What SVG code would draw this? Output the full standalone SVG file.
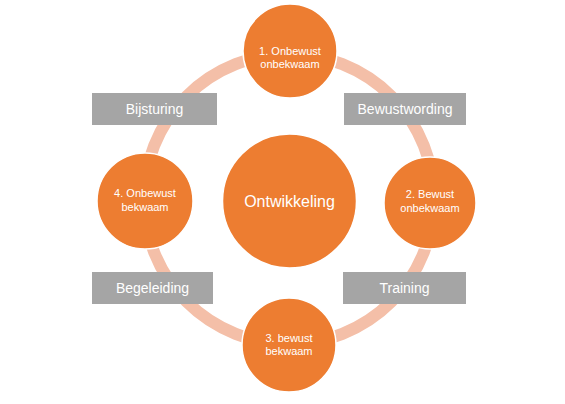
<svg xmlns="http://www.w3.org/2000/svg" width="565" height="404" viewBox="0 0 565 404">
<style>
.node{fill:#ED7D31;stroke:#fff;stroke-width:1.5}
.box{fill:#A5A5A5}
.t{font-family:"Liberation Sans",Arial,sans-serif;fill:#fff;text-anchor:middle}
.s{font-size:11px}
.b{font-size:14px}
</style>
<rect width="565" height="404" fill="#fff"/>
<g id="connectors">
<circle cx="289" cy="199" r="145" fill="none" stroke="#F4BFA8" stroke-width="12"/>
</g>
<g id="box-bijsturing"><rect class="box" x="92" y="93" width="125" height="32"/><text class="t b" x="154.5" y="114">Bijsturing</text></g>
<g id="box-bewustwording"><rect class="box" x="344" y="93" width="122" height="32"/><text class="t b" x="405" y="114">Bewustwording</text></g>
<g id="box-begeleiding"><rect class="box" x="92" y="272" width="121" height="32"/><text class="t b" x="152.5" y="293">Begeleiding</text></g>
<g id="box-training"><rect class="box" x="343" y="272" width="123" height="32"/><text class="t b" x="404.5" y="293">Training</text></g>
<g id="node-1"><circle class="node" cx="290" cy="51" r="47"/><text class="t s" x="290" y="55">1. Onbewust</text><text class="t s" x="290" y="68">onbekwaam</text></g>
<g id="node-2"><circle class="node" cx="430" cy="203" r="46"/><text class="t s" x="430" y="198">2. Bewust</text><text class="t s" x="430" y="212">onbekwaam</text></g>
<g id="node-3"><circle class="node" cx="289" cy="345" r="47"/><text class="t s" x="289" y="342">3. bewust</text><text class="t s" x="289" y="355">bekwaam</text></g>
<g id="node-4"><circle class="node" cx="145" cy="201" r="48"/><text class="t s" x="145" y="197">4. Onbewust</text><text class="t s" x="145" y="211">bekwaam</text></g>
<g id="node-center"><circle class="node" cx="289.5" cy="201" r="67"/><text class="t" x="289.5" y="207" font-size="16">Ontwikkeling</text></g>
</svg>
